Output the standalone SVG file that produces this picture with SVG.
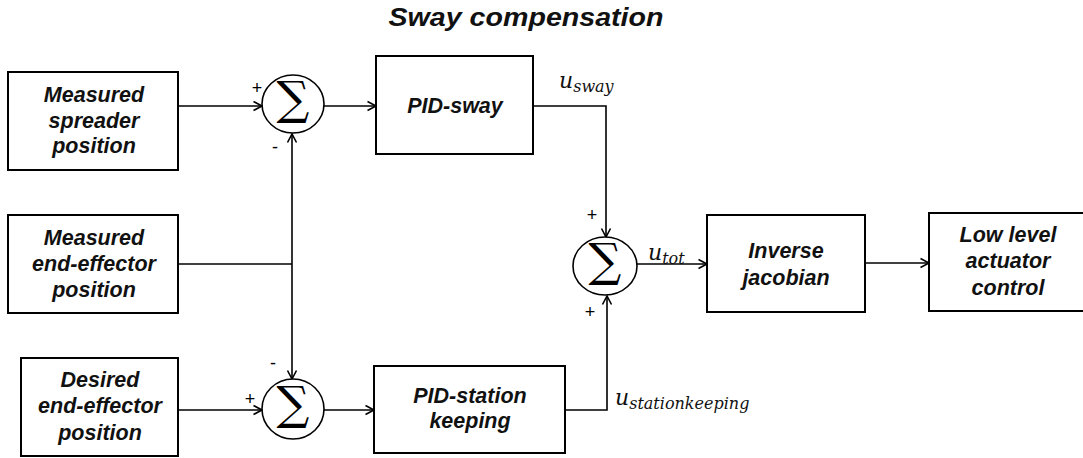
<svg xmlns="http://www.w3.org/2000/svg" width="1083" height="458" viewBox="0 0 1083 458">
<style>
.box{fill:#fff;stroke:#000;stroke-width:2}
.sum{fill:#fff;stroke:#000;stroke-width:1.6}
.lbl{font-family:"Liberation Sans",Arial,sans-serif;font-weight:bold;font-style:italic;font-size:21.5px;fill:#111;text-anchor:middle}
.sig{font-family:"DejaVu Serif","Liberation Serif",serif;font-size:46px;fill:#000;text-anchor:middle}
.pm{font-family:"Liberation Sans",Arial,sans-serif;font-size:18px;fill:#000;text-anchor:middle}
.math{font-family:"DejaVu Serif","Liberation Serif",serif;font-style:italic;font-size:22px;fill:#111}
.sub{font-size:16px}
.wire{fill:none;stroke:#000;stroke-width:1.6}
</style>
<defs>
<marker id="arr" markerWidth="10" markerHeight="10" refX="8.5" refY="4.5" orient="auto" markerUnits="userSpaceOnUse" overflow="visible">
<path d="M0,0 L8.5,4.5 L0,9" fill="none" stroke="#000" stroke-width="1.6"/>
</marker>
</defs>
<text x="526" y="26" class="lbl" style="font-size:26px" textLength="275" lengthAdjust="spacingAndGlyphs">Sway compensation</text>
<g id="connectors">
<path class="wire" d="M178,106 H262" marker-end="url(#arr)"/>
<path class="wire" d="M324,106 H376" marker-end="url(#arr)"/>
<path class="wire" d="M533,106 H606 V237" marker-end="url(#arr)"/>
<path class="wire" d="M178,264 H292"/>
<path class="wire" d="M292,264 V134" marker-end="url(#arr)"/>
<path class="wire" d="M292,264 V379" marker-end="url(#arr)"/>
<path class="wire" d="M178,410 H262" marker-end="url(#arr)"/>
<path class="wire" d="M324,410 H374" marker-end="url(#arr)"/>
<path class="wire" d="M565,410 H607 V296" marker-end="url(#arr)"/>
<path class="wire" d="M637,264 H707" marker-end="url(#arr)"/>
<path class="wire" d="M865,263 H929" marker-end="url(#arr)"/>
</g>
<g id="measured-spreader">
<rect class="box" x="8" y="72" width="170" height="98"/>
<text class="lbl" x="94" y="102">Measured</text>
<text class="lbl" x="94" y="128">spreader</text>
<text class="lbl" x="94" y="153">position</text>
</g>
<g id="measured-end-effector">
<rect class="box" x="8" y="215" width="170" height="98"/>
<text class="lbl" x="94" y="245">Measured</text>
<text class="lbl" x="94" y="271">end-effector</text>
<text class="lbl" x="94" y="297">position</text>
</g>
<g id="desired-end-effector">
<rect class="box" x="21" y="358" width="157" height="98"/>
<text class="lbl" x="100" y="387">Desired</text>
<text class="lbl" x="100" y="413">end-effector</text>
<text class="lbl" x="100" y="440">position</text>
</g>
<g id="sum1">
<ellipse class="sum" cx="293" cy="104" rx="31" ry="29"/>
<text class="sig" x="293" y="114">∑</text>
<text class="pm" x="257" y="94">+</text>
<text class="pm" x="275" y="153">-</text>
</g>
<g id="sum2">
<ellipse class="sum" cx="293" cy="409" rx="31" ry="30"/>
<text class="sig" x="293" y="419">∑</text>
<text class="pm" x="273" y="369">-</text>
<text class="pm" x="250" y="405">+</text>
</g>
<g id="sum3">
<ellipse class="sum" cx="605" cy="266" rx="32" ry="29"/>
<text class="sig" x="605" y="276">∑</text>
<text class="pm" x="592" y="221">+</text>
<text class="pm" x="590" y="318">+</text>
</g>
<g id="pid-sway">
<rect class="box" x="376" y="56" width="157" height="98"/>
<text class="lbl" x="455" y="113">PID-sway</text>
</g>
<g id="pid-station">
<rect class="box" x="374" y="366" width="191" height="87"/>
<text class="lbl" x="470" y="403">PID-station</text>
<text class="lbl" x="470" y="428">keeping</text>
</g>
<g id="inverse-jacobian">
<rect class="box" x="707" y="215" width="158" height="97"/>
<text class="lbl" x="786" y="258">Inverse</text>
<text class="lbl" x="786" y="285">jacobian</text>
</g>
<g id="low-level">
<rect class="box" x="929" y="213" width="160" height="98"/>
<text class="lbl" x="1008" y="242">Low level</text>
<text class="lbl" x="1008" y="268">actuator</text>
<text class="lbl" x="1008" y="295">control</text>
</g>
<g id="labels">
<text class="math" x="559" y="88">u<tspan class="sub" dy="4">sway</tspan></text>
<text class="math" x="648" y="260">u<tspan class="sub" dy="4">tot</tspan></text>
<text class="math" x="615" y="405">u<tspan class="sub" dy="4">stationkeeping</tspan></text>
</g>
</svg>
